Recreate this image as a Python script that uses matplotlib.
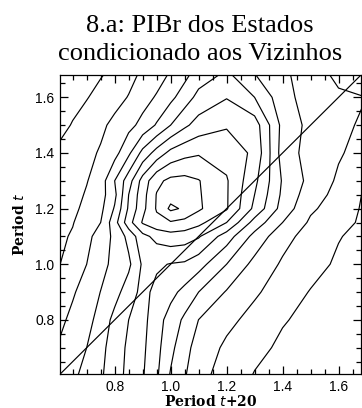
import numpy as np
import matplotlib
matplotlib.use('Agg')
import matplotlib.pyplot as plt
from matplotlib.ticker import MultipleLocator, FormatStrFormatter

# Estimated conditional density of relative GDP, on a coarse grid
# columns: Period t+20 (x), rows: Period t (y)
grid_x = [0.6, 0.65, 0.7, 0.75, 0.8, 0.85, 0.9, 0.95, 1.0, 1.05, 1.1, 1.2, 1.3, 1.4, 1.5, 1.6, 1.7]
grid_y = [0.6, 0.7, 0.8, 0.9, 1.0, 1.1, 1.15, 1.2, 1.25, 1.3, 1.4, 1.5, 1.6, 1.7]
density = [
    [3.38, 3.81, 4.31, 4.87, 5.54, 6.28, 6.09, 5.15, 3.90, 3.08, 2.36, 1.52, 0.95, 0.70, 0.50, 0.35, 0.25],
    [3.09, 3.55, 4.00, 4.74, 5.44, 6.20, 6.20, 5.29, 4.29, 3.28, 2.65, 1.80, 1.23, 0.85, 0.60, 0.42, 0.30],
    [2.73, 3.25, 3.69, 4.35, 5.31, 6.00, 6.32, 5.40, 4.60, 3.80, 2.99, 2.28, 1.65, 1.06, 0.80, 0.58, 0.42],
    [2.25, 2.88, 3.45, 4.02, 4.63, 5.50, 6.30, 5.73, 5.28, 4.72, 4.00, 2.92, 2.15, 1.50, 0.95, 0.70, 0.50],
    [1.95, 2.43, 3.00, 3.68, 4.27, 4.79, 6.15, 6.15, 5.95, 5.85, 5.40, 4.00, 2.70, 1.87, 1.35, 0.85, 0.60],
    [1.80, 2.10, 2.68, 3.50, 4.20, 5.30, 6.70, 7.30, 7.60, 7.50, 7.10, 5.50, 3.67, 2.33, 1.61, 1.05, 0.70],
    [1.75, 1.95, 2.50, 3.00, 4.60, 6.60, 8.10, 8.70, 8.90, 8.70, 8.30, 7.00, 4.60, 3.00, 1.85, 1.30, 0.80],
    [1.50, 1.75, 2.30, 2.75, 4.10, 6.15, 7.70, 9.10, 10.20, 9.85, 9.15, 8.10, 5.75, 3.60, 2.15, 1.55, 0.80],
    [1.40, 1.65, 2.10, 2.60, 3.75, 6.00, 7.60, 9.05, 9.60, 9.50, 9.10, 8.10, 6.00, 3.80, 2.45, 1.70, 0.85],
    [1.25, 1.55, 1.95, 2.50, 4.00, 5.55, 7.40, 8.75, 9.25, 9.30, 9.05, 8.10, 6.25, 3.90, 2.70, 1.85, 0.95],
    [1.15, 1.40, 1.75, 2.10, 2.65, 3.80, 5.30, 6.40, 7.30, 7.70, 7.90, 7.60, 6.80, 3.55, 2.60, 2.10, 1.60],
    [0.75, 1.05, 1.42, 1.80, 2.25, 2.70, 3.30, 4.10, 5.00, 5.80, 6.40, 6.90, 6.50, 3.70, 2.70, 2.20, 1.85],
    [0.50, 0.75, 0.95, 1.30, 1.65, 2.05, 2.60, 3.10, 3.75, 4.50, 5.30, 5.95, 5.00, 3.40, 2.50, 2.10, 2.00],
    [0.35, 0.50, 0.70, 0.85, 1.15, 1.60, 2.10, 2.45, 3.00, 3.55, 4.30, 5.00, 3.85, 3.25, 2.25, 1.80, 1.50],
]
levels = [1, 2, 3, 4, 5, 6, 7, 8, 9, 10]

x_range = (0.605, 1.68)
y_range = (0.605, 1.68)
x_ticks = [0.8, 1.0, 1.2, 1.4, 1.6]
y_ticks = [0.8, 1.0, 1.2, 1.4, 1.6]

title_lines = ['8.a: PIBr dos Estados', 'condicionado aos Vizinhos']

fig = plt.figure(figsize=(3.62, 4.08), dpi=100)
ax = fig.add_axes([0.166, 0.083, 0.831, 0.733])

ax.contour(grid_x, grid_y, np.array(density), levels=levels,
           colors='black', linewidths=0.85, linestyles='solid')
# 45 degree line
ax.axline((x_range[0], x_range[0]), slope=1, color='black', linewidth=0.85)

ax.set_xlim(*x_range)
ax.set_ylim(*y_range)
ax.set_xticks(x_ticks)
ax.set_yticks(y_ticks)
ax.xaxis.set_minor_locator(MultipleLocator(0.05))
ax.yaxis.set_minor_locator(MultipleLocator(0.05))
ax.xaxis.set_major_formatter(FormatStrFormatter('%.1f'))
ax.yaxis.set_major_formatter(FormatStrFormatter('%.1f'))
ax.tick_params(which='both', direction='in', top=True, right=True,
               width=0.9, labelsize=10, pad=4, colors='black')
ax.tick_params(which='major', length=6)
ax.tick_params(which='minor', length=3.5)
for lab in ax.get_xticklabels() + ax.get_yticklabels():
    lab.set_fontfamily('Liberation Sans')

for side in ax.spines.values():
    side.set_linewidth(0.9)

ax.set_xlabel(r'Period $t$+20', fontfamily='DejaVu Serif', fontweight='bold',
              fontsize=10, labelpad=0)
ax.set_ylabel(r'Period $t$', fontfamily='DejaVu Serif', fontweight='bold',
              fontsize=10, labelpad=6)

# two-line title, placed by baseline
fig.text(0.552, 1 - 32 / 408, title_lines[0], ha='center', va='baseline',
         fontfamily='Liberation Serif', fontsize=19)
fig.text(0.552, 1 - 60 / 408, title_lines[1], ha='center', va='baseline',
         fontfamily='Liberation Serif', fontsize=19)

fig.savefig('out.png', dpi=100)
